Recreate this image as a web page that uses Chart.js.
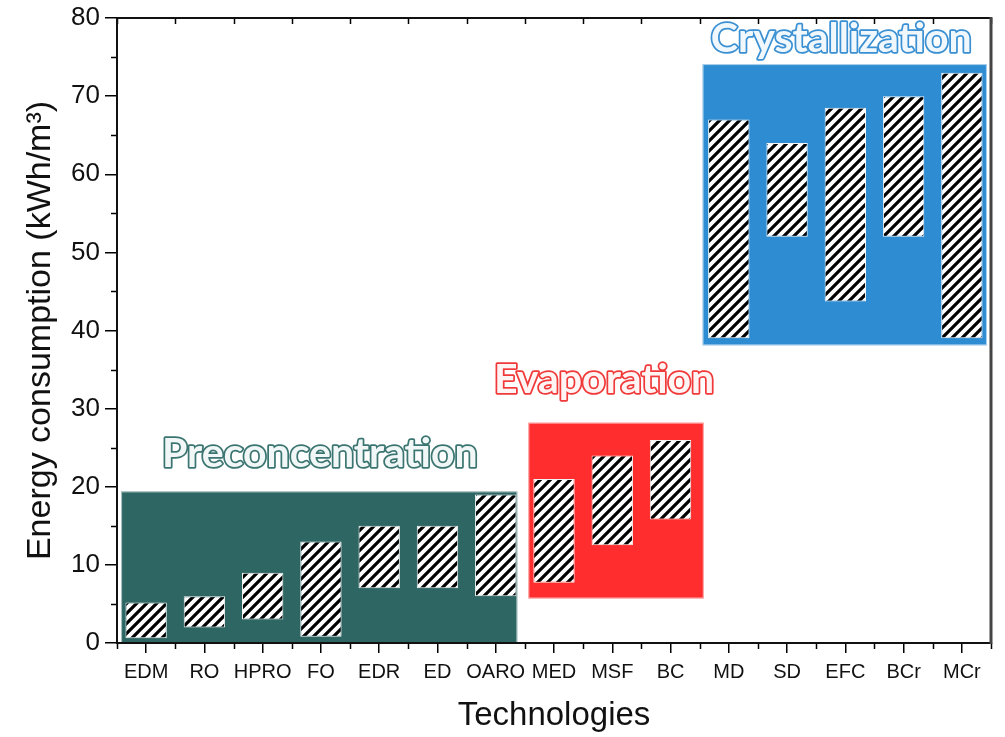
<!DOCTYPE html>
<html>
<head>
<meta charset="utf-8">
<script src="https://cdn.jsdelivr.net/npm/chart.js@4"></script>
<style>
  body { margin: 0; background: #fff; }
  #wrap { width: 1005px; height: 737px; }
</style>
</head>
<body>
<div id="wrap"><canvas id="chart" width="1005" height="737"></canvas></div>
<script>
/* ==================== Data ==================== */
const technologies = ['EDM', 'RO', 'HPRO', 'FO', 'EDR', 'ED', 'OARO', 'MED', 'MSF', 'BC', 'MD', 'SD', 'EFC', 'BCr', 'MCr'];
const energyLow  = [0.6, 2, 3, 0.8, 7, 7, 6, 7.7, 12.5, 15.8, 39, 52, 43.7, 52, 39];
const energyHigh = [5.2, 6, 9, 13, 15, 15, 19, 21, 24, 26, 67, 64, 68.5, 70, 73];
const yTicks = [0, 10, 20, 30, 40, 50, 60, 70, 80];

// process groups: extent in category index (x) and kWh/m3 (y)
const groupNames = ['Preconcentration', 'Evaporation', 'Crystallization'];
const groupXFrom = [-0.43, 6.56, 9.55];
const groupXTo   = [6.37, 9.57, 14.43];
const groupYLow  = [0, 5.7, 38.1];
const groupYHigh = [19.4, 28.2, 74.1];

/* ==================== Styles ==================== */
const FONT = "'Liberation Sans', Arial, sans-serif";
const GROUP_STYLE = [
    { fill: '#2e6664', stroke: '#3b7571', text: '#f1f7f6', labelX: 2.98, labelY: 22.5 },
    { fill: '#ff2d2d', stroke: '#f03a3a', text: '#fff4f4', labelX: 7.86, labelY: 32.0 },
    { fill: '#2e8cd2', stroke: '#3a90d2', text: '#f1f8fd', labelX: 11.93, labelY: 75.7 }
];

/* ==================== Hatch pattern ==================== */
function makeHatch() {
    const c = document.createElement('canvas');
    c.width = 10; c.height = 10;
    const g = c.getContext('2d');
    g.fillStyle = '#fff';
    g.fillRect(0, 0, 10, 10);
    g.strokeStyle = '#000';
    g.lineWidth = 3.2;
    g.beginPath();
    g.moveTo(-2, 12); g.lineTo(12, -2);
    g.moveTo(-2, 2); g.lineTo(2, -2);
    g.moveTo(8, 12); g.lineTo(12, 8);
    g.stroke();
    return g.createPattern(c, 'repeat');
}

/* ==================== Plugins ==================== */
const groupBoxes = {
    id: 'groupBoxes',
    beforeDatasetsDraw(chart) {
        const { ctx, scales: { x, y } } = chart;
        ctx.save();
        groupNames.forEach((name, i) => {
            const x0 = x.getPixelForValue(groupXFrom[i]);
            const x1 = x.getPixelForValue(groupXTo[i]);
            const y0 = y.getPixelForValue(groupYHigh[i]);
            const y1 = y.getPixelForValue(groupYLow[i]);
            ctx.fillStyle = GROUP_STYLE[i].fill;
            ctx.fillRect(x0, y0, x1 - x0, y1 - y0);
            ctx.strokeStyle = 'rgba(255,255,255,0.6)';
            ctx.lineWidth = 1;
            ctx.strokeRect(x0 + 0.5, y0 + 0.5, x1 - x0 - 1, y1 - y0 - 1);
        });
        ctx.restore();
    }
};

const frameAndLabels = {
    id: 'frameAndLabels',
    afterDraw(chart) {
        const { ctx, chartArea: ca, scales: { x, y } } = chart;
        ctx.save();

        // minor ticks
        ctx.strokeStyle = '#000';
        ctx.lineWidth = 1.5;
        ctx.beginPath();
        for (let v = 5; v < 80; v += 10) {
            const py = Math.round(y.getPixelForValue(v)) + 0.5;
            ctx.moveTo(ca.left - 6, py);
            ctx.lineTo(ca.left, py);
        }
        for (let i = 0; i <= technologies.length; i++) {
            const px = Math.round(x.getPixelForValue(i - 0.5)) + 0.5;
            ctx.moveTo(px, ca.bottom);
            ctx.lineTo(px, ca.bottom + 6);
            ctx.moveTo(px, ca.top);
            ctx.lineTo(px, ca.top + 6);
        }
        ctx.stroke();

        // frame
        ctx.lineWidth = 2;
        ctx.strokeStyle = '#111';
        ctx.beginPath();
        ctx.moveTo(ca.left, ca.top);
        ctx.lineTo(ca.right, ca.top);
        ctx.moveTo(ca.left, ca.bottom);
        ctx.lineTo(ca.right, ca.bottom);
        ctx.moveTo(ca.left, ca.top);
        ctx.lineTo(ca.left, ca.bottom);
        ctx.stroke();
        ctx.lineWidth = 3;
        ctx.strokeStyle = '#444';
        ctx.beginPath();
        ctx.moveTo(ca.right, ca.top - 1);
        ctx.lineTo(ca.right, ca.bottom + 1);
        ctx.stroke();

        // group labels (outlined text)
        ctx.font = "bold 41px Lato, 'Open Sans', sans-serif";
        ctx.textAlign = 'center';
        ctx.textBaseline = 'alphabetic';
        ctx.lineJoin = 'round';
        groupNames.forEach((name, i) => {
            const st = GROUP_STYLE[i];
            const px = x.getPixelForValue(st.labelX);
            const py = y.getPixelForValue(st.labelY);
            ctx.lineWidth = 3.5;
            ctx.strokeStyle = st.stroke;
            ctx.strokeText(name, px, py);
            ctx.fillStyle = st.text;
            ctx.fillText(name, px, py);
        });
        ctx.restore();
    }
};

/* ==================== Chart ==================== */
const hatch = makeHatch();

new Chart(document.getElementById('chart'), {
    type: 'bar',
    data: {
        labels: technologies,
        datasets: [{
            data: technologies.map((t, i) => [energyLow[i], energyHigh[i]]),
            backgroundColor: hatch,
            borderColor: '#f4f4f4',
            borderWidth: 1,
            borderSkipped: false,
            barPercentage: 0.71,
            categoryPercentage: 1
        }]
    },
    options: {
        responsive: false,
        animation: false,
        devicePixelRatio: 1,
        layout: { padding: { top: 18, right: 14, left: 0, bottom: 0 } },
        plugins: {
            legend: { display: false },
            tooltip: { enabled: false }
        },
        scales: {
            x: {
                type: 'category',
                offset: true,
                grid: {
                    offset: false,
                    drawOnChartArea: false,
                    tickLength: 10,
                    color: '#000',
                    lineWidth: 1.5
                },
                border: { display: true, color: '#000', width: 2 },
                ticks: {
                    autoSkip: false,
                    maxRotation: 0,
                    padding: 7,
                    color: '#111',
                    font: { family: FONT, size: 20 }
                },
                title: {
                    display: true,
                    text: 'Technologies',
                    color: '#111',
                    font: { family: FONT, size: 33 },
                    padding: { top: 0, bottom: 1 }
                },
                afterFit(scale) { scale.height = 94; }
            },
            y: {
                min: 0,
                max: 80,
                afterBuildTicks(scale) { scale.ticks = yTicks.map(v => ({ value: v })); },
                grid: {
                    drawOnChartArea: false,
                    tickLength: 12,
                    color: '#000',
                    lineWidth: 1.5
                },
                border: { display: true, color: '#000', width: 2 },
                ticks: {
                    padding: 5,
                    color: '#111',
                    font: { family: FONT, size: 26, lineHeight: 1 }
                },
                title: {
                    display: true,
                    text: 'Energy consumption (kWh/m³)',
                    color: '#111',
                    font: { family: FONT, size: 34 },
                    padding: { top: 20, bottom: 0 }
                },
                afterFit(scale) { scale.width = 117; }
            }
        }
    },
    plugins: [groupBoxes, frameAndLabels]
});
</script>
</body>
</html>
